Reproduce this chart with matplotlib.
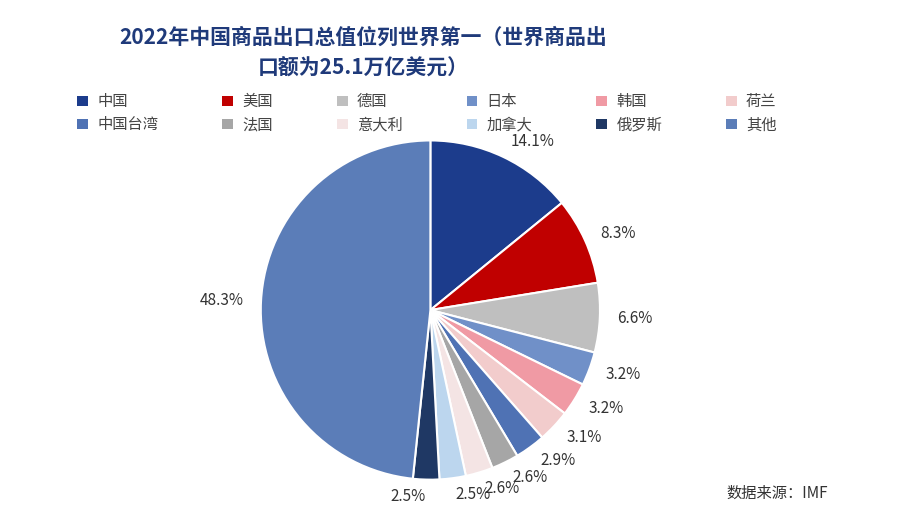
import matplotlib
matplotlib.use("Agg")
import matplotlib.pyplot as plt
from matplotlib.patches import Patch

plt.rcParams['font.family'] = ['Noto Sans CJK SC', 'DejaVu Sans']

categories = ['中国', '美国', '德国', '日本', '韩国', '荷兰', '中国台湾', '法国', '意大利', '加拿大', '俄罗斯', '其他']
values = [14.1, 8.3, 6.6, 3.2, 3.2, 3.1, 2.9, 2.6, 2.6, 2.5, 2.5, 48.3]
labels = ['14.1%', '8.3%', '6.6%', '3.2%', '3.2%', '3.1%', '2.9%', '2.6%', '2.6%', '2.5%', '2.5%', '48.3%']
colors = ['#1c3c8c', '#c00000', '#bfbfbf', '#7090c8', '#f09aa4', '#f2cccc',
          '#4f72b4', '#a6a6a6', '#f4e4e4', '#bcd6ee', '#1f3864', '#5b7db8']

fig = plt.figure(figsize=(9.08, 5.3), dpi=100)
ax = fig.add_axes([0.474 - 0.187, 0.415 - 0.32, 0.374, 0.64])
wedges, texts = ax.pie(values, colors=colors, startangle=90, counterclock=False,
                       labels=labels, labeldistance=1.1,
                       wedgeprops=dict(edgecolor='white', linewidth=1.5),
                       textprops=dict(fontsize=11, color='#333333'))
ax.set_xlim(-1, 1)
ax.set_ylim(-1, 1)
ax.set_aspect('equal')

fig.text(0.40, 0.93, '2022年中国商品出口总值位列世界第一（世界商品出', ha='center', va='center',
         fontsize=15, fontweight='bold', color='#1f3a7a')
fig.text(0.40, 0.872, '口额为25.1万亿美元）', ha='center', va='center',
         fontsize=15, fontweight='bold', color='#1f3a7a')

# reorder so the legend reads row by row (matplotlib fills columns first)
ncol, nrow = 6, 2
order = [r * ncol + c for c in range(ncol) for r in range(nrow)]
handles = [Patch(facecolor=colors[i], edgecolor='none') for i in order]
leg_labels = [categories[i] for i in order]
fig.legend(handles, leg_labels, ncol=ncol, loc='upper left', bbox_to_anchor=(0.07, 0.85),
           frameon=False, fontsize=11, handlelength=0.7, handleheight=0.7,
           columnspacing=4.2, handletextpad=0.6, labelspacing=0.4,
           labelcolor='#444444')

fig.text(0.80, 0.06, '数据来源：IMF', fontsize=11, color='#333333')
fig.savefig('out.png', dpi=100)
